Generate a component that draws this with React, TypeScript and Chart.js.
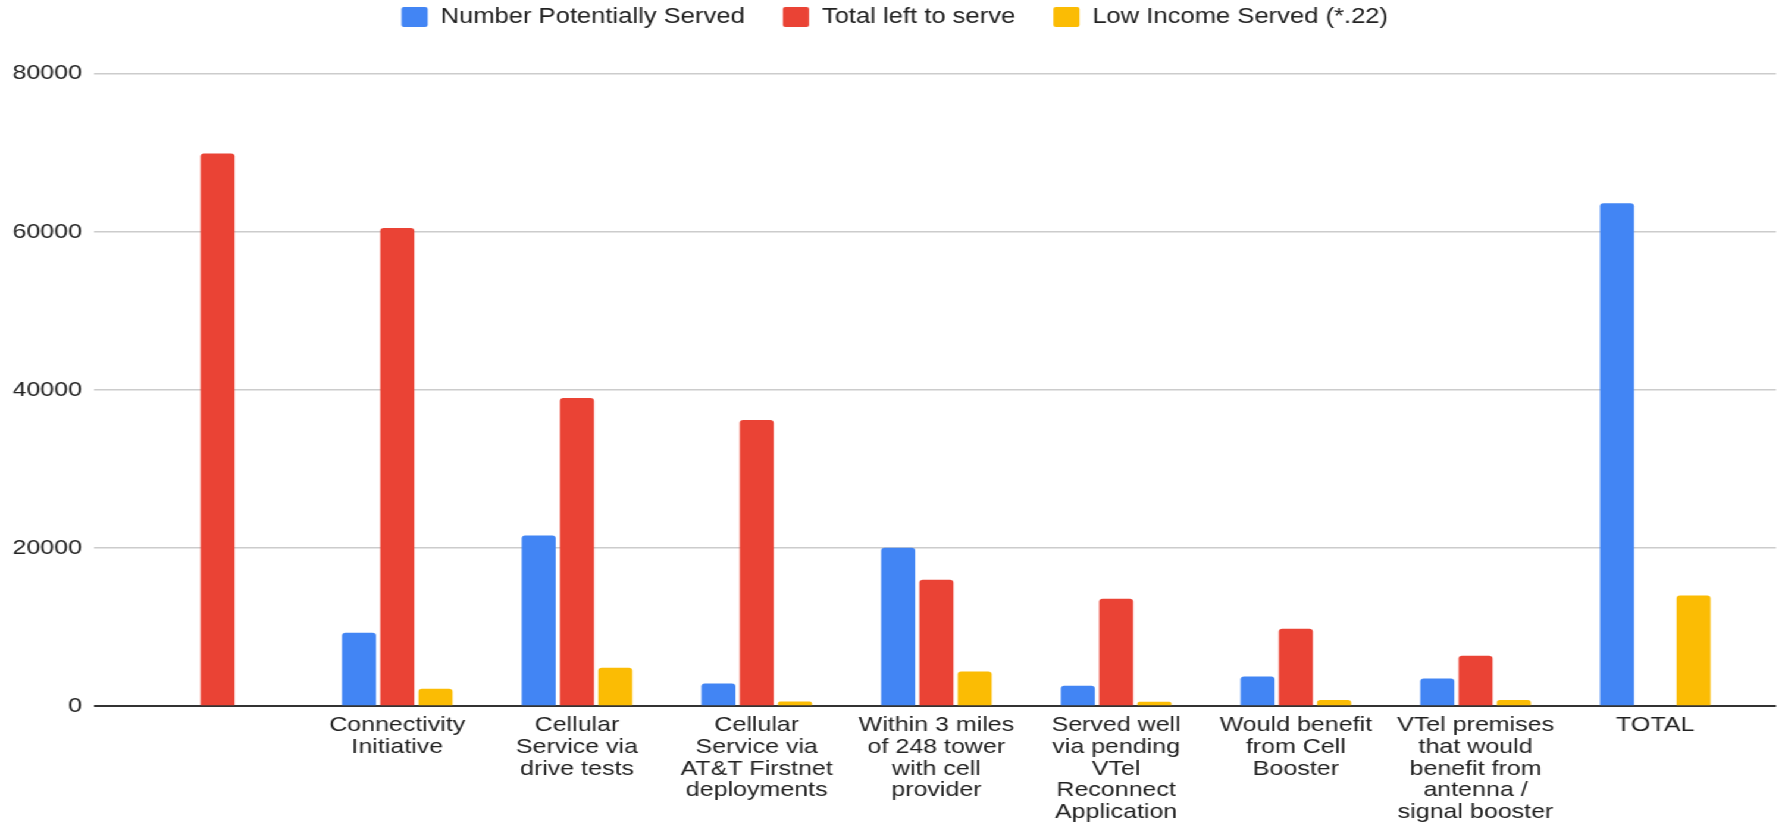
import React, { useEffect, useRef } from 'react';
import { Chart, registerables } from 'chart.js';

Chart.register(...registerables);

// ---- data ----
const categories: (string | string[])[] = [
  '',
  ['Connectivity', 'Initiative'],
  ['Cellular', 'Service via', 'drive tests'],
  ['Cellular', 'Service via', 'AT&T Firstnet', 'deployments'],
  ['Within 3 miles', 'of 248 tower', 'with cell', 'provider'],
  ['Served well', 'via pending', 'VTel', 'Reconnect', 'Application'],
  ['Would benefit', 'from Cell', 'Booster'],
  ['VTel premises', 'that would', 'benefit from', 'antenna /', 'signal booster'],
  ['TOTAL'],
];
const seriesNames = ['Number Potentially Served', 'Total left to serve', 'Low Income Served (*.22)'];
const numberPotentiallyServed: (number | null)[] = [null, 9300, 21600, 2870, 20050, 2600, 3760, 3500, 63600];
const totalLeftToServe: (number | null)[] = [69900, 60500, 39000, 36200, 16000, 13600, 9800, 6400, null];
const lowIncomeServed: (number | null)[] = [null, 2200, 4860, 600, 4400, 560, 800, 780, 14000];
const yTicks = [0, 20000, 40000, 60000, 80000];
const seriesColors = ['#4285F4', '#EA4335', '#FBBC04'];

// ---- layout ----
const STRETCH = 1.19;
const FULL_W = 1784;
const FULL_H = 824;
const W = FULL_W / STRETCH;
const FONT = '"Liberation Sans", Arial, Helvetica, sans-serif';
const TEXT = '#222222';
const LEGEND_FONT = 21.5;
const LEGEND_PAD = 32;
const LEGEND_TOP = 6.25 - LEGEND_PAD;
const LEGEND_BOTTOM = LEGEND_TOP + LEGEND_FONT + LEGEND_PAD + 10;
const PLOT_TOP = 73.7;
const PAD_LEFT = 11.4;

export default function App() {
  const ref = useRef<HTMLCanvasElement | null>(null);

  useEffect(() => {
    if (!ref.current) return;
    const series = [numberPotentiallyServed, totalLeftToServe, lowIncomeServed];
    const chart = new Chart(ref.current, {
      type: 'bar',
      data: {
        datasets: series.map((vals, k) => ({
          label: seriesNames[k],
          data: vals.map((v, i) => ({ x: i, y: v })),
          backgroundColor: seriesColors[k],
          borderWidth: 0,
          borderRadius: 3,
          borderSkipped: 'start',
          barPercentage: 0.889,
          categoryPercentage: 0.639,
        })) as any,
      },
      options: {
        animation: false,
        responsive: true,
        maintainAspectRatio: false,
        layout: { padding: { top: LEGEND_TOP, right: 8 / STRETCH, bottom: -7.4, left: PAD_LEFT } },
        plugins: {
          tooltip: { enabled: false },
          legend: {
            position: 'top',
            align: 'center',
            weight: 1000,
            labels: {
              font: { family: FONT, size: LEGEND_FONT },
              color: TEXT,
              boxWidth: 22,
              boxHeight: 20,
              padding: LEGEND_PAD,
              useBorderRadius: true,
              borderRadius: 2,
            },
          },
          title: {
            display: true,
            text: '',
            weight: 500,
            padding: 0,
            font: { size: PLOT_TOP - LEGEND_BOTTOM, lineHeight: 1 },
          },
        },
        scales: {
          x: {
            type: 'linear',
            min: -0.6875,
            max: 8.672,
            offset: false,
            grid: { display: false, drawTicks: false },
            border: { display: false },
            afterBuildTicks: (s: any) => {
              s.ticks = categories.map((_, i) => ({ value: i }));
            },
            ticks: {
              autoSkip: false,
              maxRotation: 0,
              minRotation: 0,
              padding: 8.5,
              color: TEXT,
              font: { family: FONT, size: 21, lineHeight: 1.03 },
              callback: (v: any) => categories[Number(v)] as any,
            },
          },
          y: {
            min: 0,
            max: 80000,
            border: { display: false },
            afterBuildTicks: (s: any) => {
              s.ticks = yTicks.map((v) => ({ value: v }));
            },
            afterFit: (s: any) => {
              s.width = 94 / STRETCH - PAD_LEFT;
            },
            grid: {
              drawTicks: false,
              color: (ctx: any) => (ctx.tick && ctx.tick.value === 0 ? '#333333' : '#cccccc'),
              lineWidth: (ctx: any) => (ctx.tick && ctx.tick.value === 0 ? 2 : 1.6),
            },
            ticks: {
              padding: 12 / STRETCH,
              color: TEXT,
              font: { family: FONT, size: 21 },
              callback: (v: any) => String(v),
            },
          },
        },
      } as any,
    });
    return () => chart.destroy();
  }, []);

  return (
    <div
      style={{
        position: 'absolute',
        left: 0,
        top: 0,
        width: `${W}px`,
        height: `${FULL_H}px`,
        transform: `scaleX(${STRETCH})`,
        transformOrigin: 'left top',
        background: '#ffffff',
      }}
    >
      <canvas ref={ref} />
    </div>
  );
}
